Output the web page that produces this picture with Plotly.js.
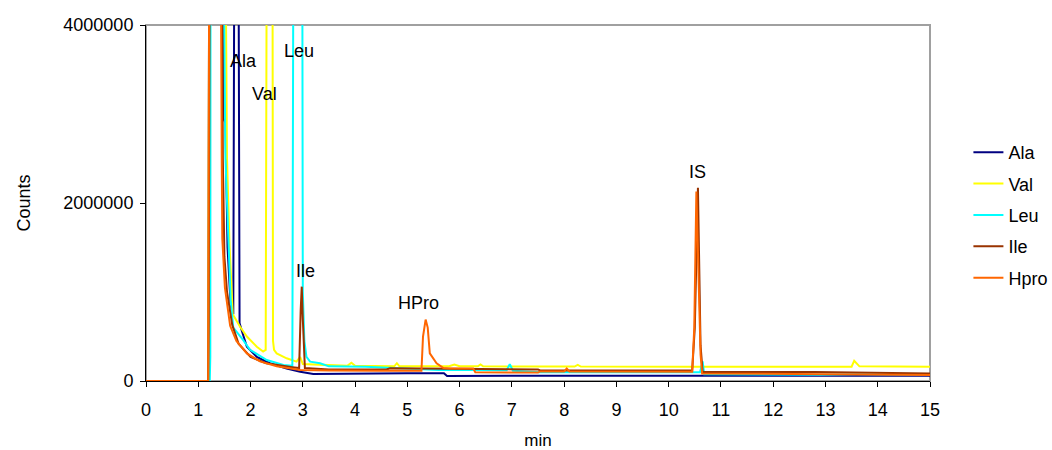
<!DOCTYPE html>
<html>
<head>
<meta charset="utf-8">
<script src="https://cdn.plot.ly/plotly-3.0.1.min.js"></script>
<style>html,body{margin:0;padding:0;background:#fff;}#chart{width:1052px;height:450px;}</style>
</head>
<body>
<div id="chart"></div>
<script>
// ---- data (retention time in min, counts) ----
const seriesNames = ["Ala", "Val", "Leu", "Ile", "Hpro"];
const seriesColors = ["#000080", "#FFFF00", "#00FFFF", "#993300", "#FF6600"];

const alaTime   = [0, 1.19, 1.21, 1.46, 1.48, 1.52, 1.56, 1.62, 1.67, 1.69, 1.77, 1.79, 1.83, 1.93, 2.12, 2.37, 2.69, 2.95, 3.2, 4.0, 5.0, 5.7, 5.76, 7.0, 8.0, 10.4, 10.6, 12.6, 15];
const alaCounts = [0, 0, 5000000, 5000000, 2950000, 2900000, 1500000, 850000, 750000, 5000000, 5000000, 650000, 570000, 385000, 270000, 200000, 140000, 105000, 80000, 85000, 87000, 87000, 56000, 60000, 62000, 60000, 60000, 58000, 58000];

const valTime   = [0, 1.19, 1.21, 1.52, 1.55, 1.6, 1.66, 1.8, 1.93, 2.12, 2.24, 2.29, 2.31, 2.42, 2.43, 2.45, 2.5, 2.69, 2.88, 2.95, 3.0, 3.3, 3.85, 3.93, 4.0, 4.75, 4.8, 4.85, 5.8, 5.9, 6.0, 6.35, 6.4, 6.45, 8.2, 8.26, 8.32, 10.4, 10.7, 13.5, 13.55, 13.65, 15];
const valCounts = [0, 0, 5000000, 5000000, 2500000, 1500000, 750000, 610000, 500000, 385000, 330000, 350000, 5000000, 5000000, 450000, 350000, 310000, 255000, 217000, 270000, 190000, 180000, 170000, 205000, 172000, 165000, 200000, 165000, 165000, 185000, 165000, 165000, 185000, 165000, 162000, 180000, 162000, 160000, 160000, 160000, 228000, 165000, 160000];

const leuTime   = [0, 1.22, 1.23, 1.235, 1.48, 1.52, 1.57, 1.62, 1.67, 1.86, 1.99, 2.31, 2.63, 2.8, 2.82, 2.99, 3.0, 3.03, 3.07, 3.14, 3.33, 3.5, 4.2, 5.6, 6.26, 6.9, 6.96, 7.02, 7.54, 10.3, 10.45, 10.6, 10.65, 10.68, 12.9, 13.6, 15];
const leuCounts = [0, 0, 270000, 5000000, 5000000, 2500000, 1700000, 900000, 600000, 460000, 350000, 236000, 180000, 170000, 5000000, 5000000, 1000000, 450000, 270000, 217000, 200000, 165000, 160000, 125000, 125000, 120000, 190000, 115000, 98000, 98000, 98000, 98000, 220000, 75000, 70000, 75000, 70000];

const ileTime   = [0, 1.19, 1.2, 1.22, 1.45, 1.47, 1.5, 1.55, 1.65, 1.77, 2.0, 2.3, 2.8, 2.93, 2.96, 2.98, 3.0, 3.04, 3.5, 4.6, 4.67, 7.5, 7.54, 10.45, 10.5, 10.56, 10.61, 10.65, 12.8, 15];
const ileCounts = [0, 0, 700000, 5000000, 5000000, 2500000, 1400000, 1000000, 630000, 420000, 270000, 200000, 155000, 145000, 800000, 1060000, 700000, 145000, 130000, 130000, 143000, 130000, 118000, 118000, 600000, 2170000, 400000, 100000, 100000, 85000];

const hproTime   = [0, 1.19, 1.21, 1.43, 1.45, 1.46, 1.51, 1.61, 1.73, 1.93, 2.18, 2.5, 2.95, 3.5, 4.5, 5.27, 5.3, 5.35, 5.39, 5.43, 5.56, 5.69, 5.8, 6.26, 6.3, 7.5, 7.54, 8.0, 8.05, 8.1, 10.45, 10.49, 10.53, 10.61, 10.64, 12.0, 15];
const hproCounts = [0, 0, 5000000, 5000000, 2400000, 1600000, 1050000, 620000, 450000, 310000, 220000, 165000, 125000, 118000, 115000, 115000, 500000, 690000, 600000, 310000, 200000, 145000, 140000, 140000, 98000, 95000, 108000, 108000, 140000, 108000, 105000, 600000, 2130000, 300000, 85000, 80000, 68000];

const xTickVals = [0,1,2,3,4,5,6,7,8,9,10,11,12,13,14,15];
const yTickVals = [0, 2000000, 4000000];

// ---- chart ----
const times = [alaTime, valTime, leuTime, ileTime, hproTime];
const counts = [alaCounts, valCounts, leuCounts, ileCounts, hproCounts];
const FONT = "Liberation Sans, Arial, sans-serif";

const traces = seriesNames.map((n, i) => ({
  type: "scatter", mode: "lines", name: n,
  x: times[i], y: counts[i],
  line: {color: seriesColors[i], width: 2},
  legendgroup: "g" + i
}));

const peakLabels = [
  {text: "Ala", x: 1.86, y: 3600000},
  {text: "Val", x: 2.26, y: 3220000},
  {text: "Leu", x: 2.93, y: 3710000},
  {text: "Ile", x: 3.06, y: 1240000},
  {text: "HPro", x: 5.22, y: 880000},
  {text: "IS", x: 10.56, y: 2350000}
];

const layout = {
  width: 1052, height: 450,
  margin: {l: 146, r: 122, t: 25, b: 69, autoexpand: false},
  paper_bgcolor: "#fff", plot_bgcolor: "#fff",
  font: {family: FONT, size: 18, color: "#000"},
  showlegend: true,
  legend: {x: 1.049, y: 0.694, xanchor: "left", yanchor: "top", font: {size: 18, color: "#000"},
           tracegroupgap: 5, bgcolor: "rgba(0,0,0,0)"},
  xaxis: {range: [0, 15], tickvals: xTickVals, ticks: "outside", ticklen: 5, tickcolor: "#000",
          ticklabelstandoff: 7,
          showline: true, linecolor: "#000", linewidth: 1, showgrid: false, zeroline: false,
          tickfont: {size: 18}, title: {text: "min", font: {size: 17}, standoff: 16}},
  yaxis: {range: [0, 4000000], tickvals: yTickVals, tickformat: "d", ticks: "outside", ticklen: 5, tickcolor: "#000",
          ticklabelstandoff: 3,
          showline: true, linecolor: "#000", linewidth: 1, showgrid: false, zeroline: false,
          tickfont: {size: 18}, title: {text: "Counts", font: {size: 18}, standoff: 28}},
  shapes: [{type: "rect", xref: "paper", yref: "paper", x0: 0, x1: 1, y0: 0, y1: 1,
            line: {color: "#a0a0a0", width: 2}, layer: "below"}],
  annotations: peakLabels.map(p => ({text: p.text, x: p.x, y: p.y, xref: "x", yref: "y",
            showarrow: false, font: {size: 18, color: "#000"}}))
};

Plotly.newPlot("chart", traces, layout, {displayModeBar: false, staticPlot: true});
</script>
</body>
</html>
